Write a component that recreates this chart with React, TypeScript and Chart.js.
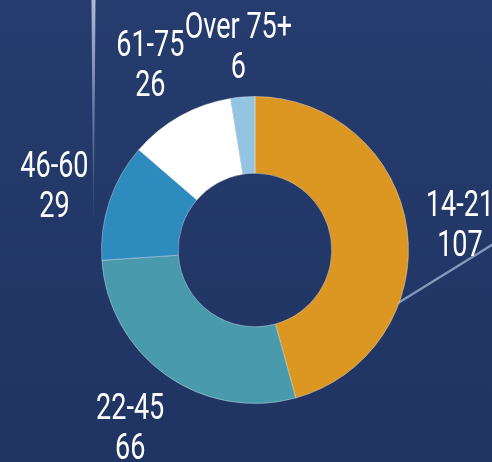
import React, { useEffect, useRef } from "react";
import { Chart, registerables } from "chart.js";

Chart.register(...registerables);

const categories = ["14-21", "22-45", "46-60", "61-75", "Over 75+"];
const counts = [107, 66, 29, 26, 6];
const sliceColors = ["#DC9722", "#4A9AAE", "#2D8BBE", "#FFFFFF", "#93C5E3"];

const FONT_SIZE = 37;
const SCALE_X = 0.73;
const LINE_GAP = 40;
const CAP = 27;
const OFFSET = 15;

const backgroundPlugin = {
  id: "bgDecor",
  beforeDraw(chart: any) {
    const { ctx, width, height } = chart;
    ctx.save();
    const g = ctx.createLinearGradient(0, 0, 0, height);
    g.addColorStop(0, "#263C6E");
    g.addColorStop(1, "#1F3462");
    ctx.fillStyle = g;
    ctx.fillRect(0, 0, width, height);

    // vertical light streak
    const vg = ctx.createLinearGradient(0, 0, 0, 225);
    vg.addColorStop(0, "rgba(220,228,245,0.75)");
    vg.addColorStop(1, "rgba(220,228,245,0)");
    ctx.fillStyle = vg;
    ctx.beginPath();
    ctx.moveTo(91.5, 0);
    ctx.lineTo(95.5, 0);
    ctx.lineTo(93.8, 225);
    ctx.lineTo(93.2, 225);
    ctx.closePath();
    ctx.fill();

    // diagonal light streak
    ctx.strokeStyle = "rgba(160,176,208,0.8)";
    ctx.lineWidth = 2.2;
    ctx.beginPath();
    ctx.moveTo(390, 308);
    ctx.lineTo(495, 243);
    ctx.stroke();
    ctx.restore();
  },
};

const labelPlugin = {
  id: "sliceLabels",
  afterDatasetsDraw(chart: any) {
    const { ctx } = chart;
    const meta = chart.getDatasetMeta(0);
    const labels = chart.data.labels as string[];
    const data = chart.data.datasets[0].data as number[];
    ctx.save();
    ctx.font = `400 ${FONT_SIZE}px Roboto`;
    ctx.fillStyle = "#FFFFFF";
    ctx.textAlign = "center";
    ctx.textBaseline = "alphabetic";
    meta.data.forEach((arc: any, i: number) => {
      const p = arc.getProps(["x", "y", "startAngle", "endAngle", "outerRadius"], true);
      const mid = (p.startAngle + p.endAngle) / 2;
      const c = Math.cos(mid);
      const s = Math.sin(mid);
      const lines = [labels[i], String(data[i])];
      const w = Math.max(...lines.map((l) => ctx.measureText(l).width)) * SCALE_X;
      const h = CAP + LINE_GAP;
      const d = p.outerRadius + OFFSET + (Math.abs(c) * w) / 2 + (Math.abs(s) * h) / 2;
      const cx = p.x + c * d;
      const cy = p.y + s * d;
      const top = cy - h / 2;
      lines.forEach((l, k) => {
        ctx.save();
        ctx.translate(cx, top + CAP + k * LINE_GAP);
        ctx.scale(SCALE_X, 1);
        ctx.fillText(l, 0, 0);
        ctx.restore();
      });
    });
    ctx.restore();
  },
};

export default function App() {
  const canvasRef = useRef<HTMLCanvasElement | null>(null);

  useEffect(() => {
    document.body.style.margin = "0";
    const canvas = canvasRef.current;
    if (!canvas) return;
    const chart = new Chart(canvas, {
      type: "doughnut",
      data: {
        labels: categories,
        datasets: [
          {
            data: counts,
            backgroundColor: sliceColors,
            borderColor: "rgba(255,255,255,0.35)",
            borderWidth: 1,
          },
        ],
      },
      options: {
        animation: false,
        responsive: true,
        maintainAspectRatio: false,
        cutout: "50%",
        layout: { padding: { left: 101, right: 83, top: 96, bottom: 58 } },
        plugins: {
          legend: { display: false },
          tooltip: { enabled: false },
        },
      },
      plugins: [backgroundPlugin, labelPlugin],
    });
    return () => chart.destroy();
  }, []);

  return (
    <div style={{ position: "relative", width: 492, height: 462, overflow: "hidden" }}>
      <canvas ref={canvasRef} />
    </div>
  );
}
